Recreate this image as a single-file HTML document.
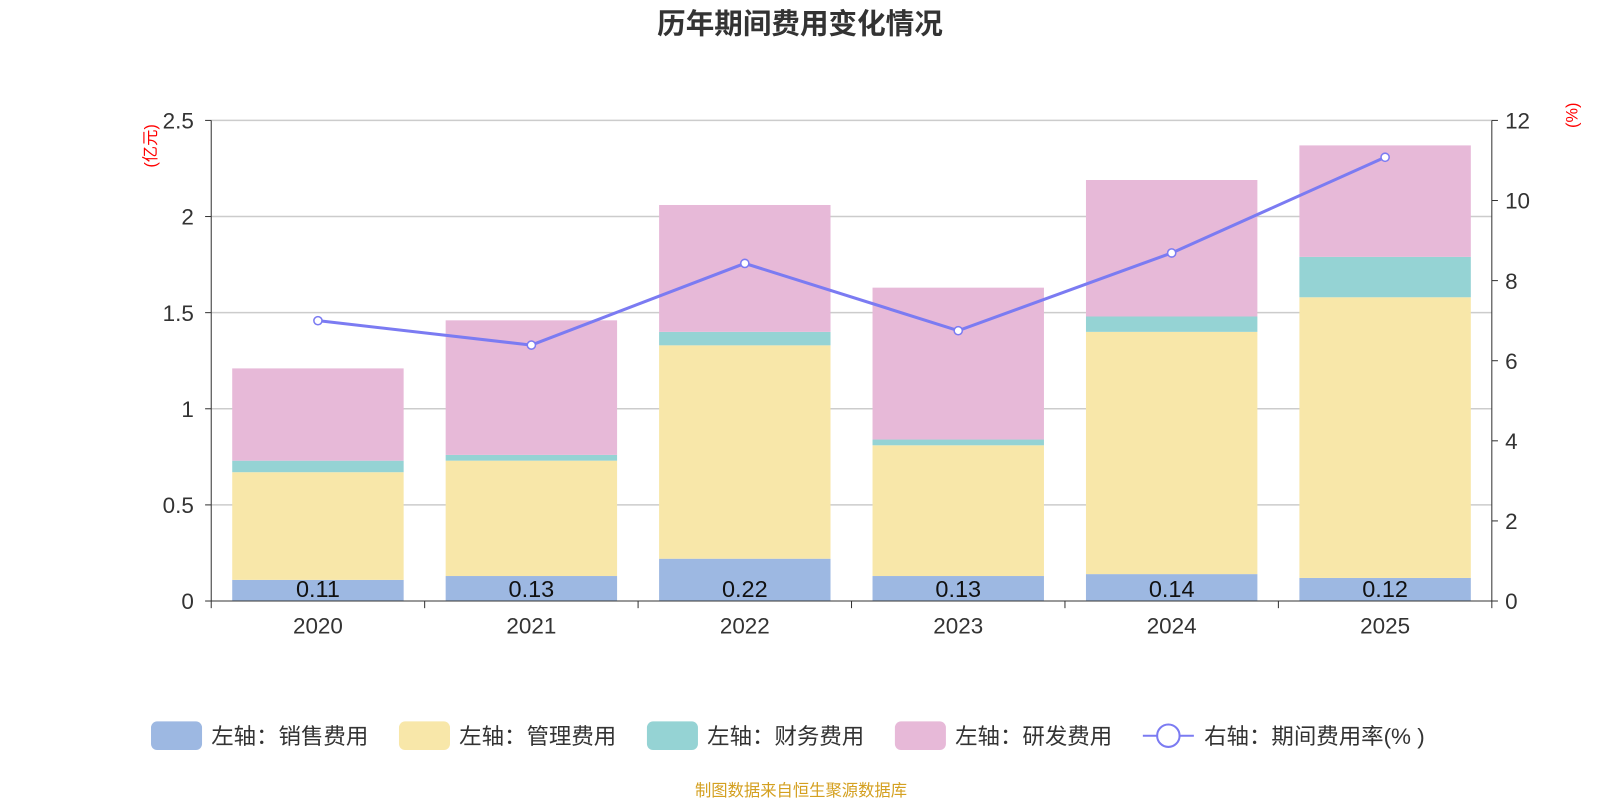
<!DOCTYPE html>
<html><head><meta charset="utf-8"><style>
body{margin:0;background:#fff;font-family:"Liberation Sans","Noto Sans CJK SC",sans-serif}
svg text{font-family:"Liberation Sans","Noto Sans CJK SC",sans-serif}
</style></head><body>
<svg id="c" width="1600" height="800">
<g transform="scale(1.0204)">
<text x="784" y="33" text-anchor="middle" font-size="28" font-weight="bold" fill="#333">历年期间费用变化情况</text>
<text transform="translate(153,143) rotate(-90)" text-anchor="middle" font-size="16" fill="red">(亿元)</text>
<text transform="translate(1546,113) rotate(-90)" text-anchor="middle" font-size="16" fill="red">(%)</text>
<g id="grid"></g><g id="bars"></g><g id="axes"></g><g id="line"></g>
<g id="legend" font-size="22" fill="#333"></g>
<text x="785" y="780" text-anchor="middle" font-size="16" fill="#d4a020">制图数据来自恒生聚源数据库</text>
</g>
</svg>
<script>
const categories=["2020","2021","2022","2023","2024","2025"];
const sales=[0.11,0.13,0.22,0.13,0.14,0.12];
const mgmt=[0.56,0.60,1.11,0.68,1.26,1.46];
const fin=[0.06,0.03,0.07,0.03,0.08,0.21];
const rd=[0.48,0.70,0.66,0.79,0.71,0.58];
const rate=[7.0,6.39,8.43,6.75,8.69,11.08];
const leftTicks=[0,0.5,1,1.5,2,2.5];
const leftTickLabels=["0","0.5","1","1.5","2","2.5"];
const rightTicks=[0,2,4,6,8,10,12];
const NS="http://www.w3.org/2000/svg";
const X0=207,X1=1462,Y0=589,Y1=118;
const yL=v=>Y0-(Y0-Y1)*v/2.5, yR=v=>Y0-(Y0-Y1)*v/12;
const band=(X1-X0)/categories.length, xc=i=>X0+band*(i+0.5), bw=168;
function mk(p,t,a){const e=document.createElementNS(NS,t);for(const k in a)e.setAttribute(k,a[k]);document.getElementById(p).appendChild(e);return e;}
leftTicks.forEach((v,i)=>{
 if(v>0){const g=mk('grid','line',{x1:X0,x2:X1,y1:yL(v),y2:yL(v),stroke:'#ccc','stroke-width':1.5});
 
 }
 const t=mk('axes','text',{x:190,y:yL(v)+8,'text-anchor':'end','font-size':22,fill:'#333'});t.textContent=leftTickLabels[i];
 
 
 mk('axes','line',{x1:X0-6,x2:X0,y1:yL(v),y2:yL(v),stroke:'#333'});
});
rightTicks.forEach(v=>{
 const t=mk('axes','text',{x:1475,y:yR(v)+8,'font-size':22,fill:'#333'});t.textContent=v;
 
 
 mk('axes','line',{x1:X1,x2:X1+6,y1:yR(v),y2:yR(v),stroke:'#333'});
});
mk('axes','line',{x1:X0,x2:X0,y1:Y1,y2:Y0,stroke:'#333'});
mk('axes','line',{x1:X1,x2:X1,y1:Y1,y2:Y0,stroke:'#333'});
mk('axes','line',{x1:X0,x2:X1,y1:Y0,y2:Y0,stroke:'#333'});
for(let i=0;i<=categories.length;i++)mk('axes','line',{x1:X0+band*i,x2:X0+band*i,y1:Y0,y2:Y0+7,stroke:'#333'});
const series=[[sales,'#9db8e2','sales'],[mgmt,'#f8e7a9','mgmt'],[fin,'#95d3d4','finance'],[rd,'#e7b9d8','rd']];
categories.forEach((c,i)=>{
 let base=0;
 series.forEach(([arr,col,n])=>{
  const r=mk('bars','rect',{x:xc(i)-bw/2,y:yL(base+arr[i]),width:bw,height:yL(base)-yL(base+arr[i]),fill:col});
  
  
  base+=arr[i];
 });
 const l=mk('bars','text',{x:xc(i),y:Y0-4,'text-anchor':'middle','font-size':23,fill:'#111'});l.textContent=sales[i].toFixed(2);
 
 
 const t=mk('axes','text',{x:xc(i),y:621,'text-anchor':'middle','font-size':22,fill:'#333'});t.textContent=c;
 
 
});
const pl=mk('line','polyline',{points:rate.map((v,i)=>xc(i)+','+yR(v)).join(' '),fill:'none',stroke:'#7b7bf2','stroke-width':3});


rate.forEach((v,i)=>{const p=mk('line','circle',{cx:xc(i),cy:yR(v),r:4,fill:'#fff',stroke:'#7b7bf2','stroke-width':1.5});
 
 });
const leg=[['左轴：销售费用','#9db8e2',148],['左轴：管理费用','#f8e7a9',391],['左轴：财务费用','#95d3d4',634],['左轴：研发费用','#e7b9d8',877]];
leg.forEach(([t,col,x])=>{
 const r=mk('legend','rect',{x:x,y:707,width:50,height:28,rx:6,fill:col});
 
 
 const tx=mk('legend','text',{x:x+59,y:729});tx.textContent=t;
 
 
});
mk('legend','line',{x1:1120,x2:1170,y1:721,y2:721,stroke:'#7b7bf2','stroke-width':2});
mk('legend','circle',{cx:1145,cy:721,r:11,fill:'#fff',stroke:'#7b7bf2','stroke-width':2});
const lt=mk('legend','text',{x:1180,y:729});lt.textContent='右轴：期间费用率(% )';


</script>
</body></html>
